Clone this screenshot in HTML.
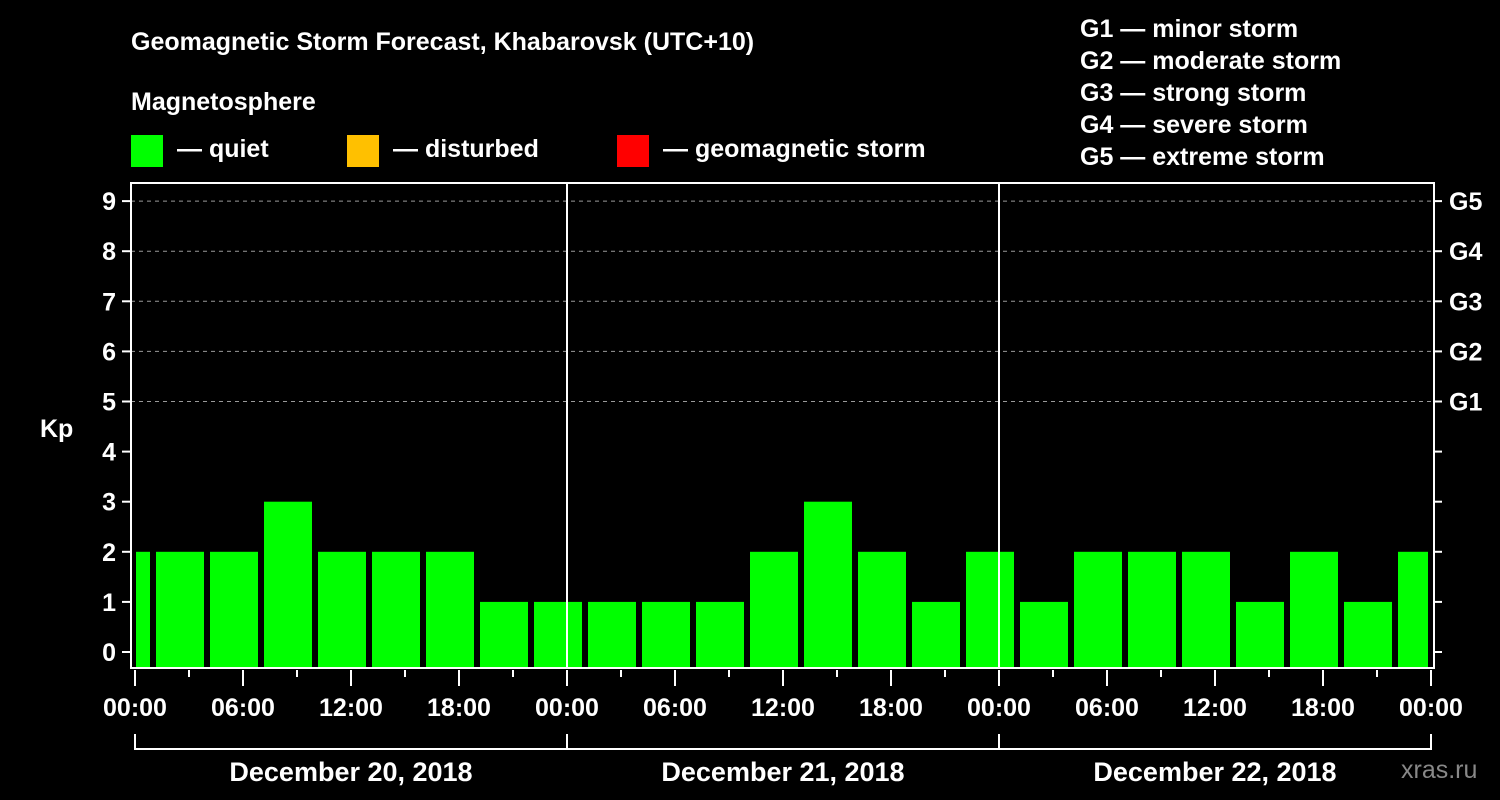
<!DOCTYPE html>
<html><head><meta charset="utf-8"><style>
body{margin:0;background:#000;}
svg{display:block;font-family:"Liberation Sans",Arial,sans-serif;font-weight:bold;}
</style></head><body>
<svg id="c" width="1500" height="800" viewBox="0 0 1500 800">
<rect width="1500" height="800" fill="#000"/>
<text x="131" y="50" fill="#fff" font-size="25">Geomagnetic Storm Forecast, Khabarovsk (UTC+10)</text>
<text x="131" y="110" fill="#fff" font-size="25">Magnetosphere</text>
<g><rect x="131" y="135" width="32" height="32" fill="#00ff00"/><text x="177" y="157" fill="#fff" font-size="25">— quiet</text></g>
<g><rect x="347" y="135" width="32" height="32" fill="#ffc000"/><text x="393" y="157" fill="#fff" font-size="25">— disturbed</text></g>
<g><rect x="617" y="135" width="32" height="32" fill="#ff0000"/><text x="663" y="157" fill="#fff" font-size="25">— geomagnetic storm</text></g>
<g fill="#fff" font-size="25">
<text x="1080" y="37">G1 — minor storm</text>
<text x="1080" y="69">G2 — moderate storm</text>
<text x="1080" y="101">G3 — strong storm</text>
<text x="1080" y="133">G4 — severe storm</text>
<text x="1080" y="165">G5 — extreme storm</text>
</g>
<text x="40" y="437" fill="#fff" font-size="25">Kp</text>
<text x="1401" y="778" fill="#888" font-size="25" font-weight="normal">xras.ru</text>
<g id="g"></g>
</svg>
<script>
const kpValues=[2,2,2,3,2,2,2,1,1,1,1,1,2,3,2,1,2,1,2,2,2,1,2,1,2];
const yTicks=[0,1,2,3,4,5,6,7,8,9];
const gLabels=["G1","G2","G3","G4","G5"];
const dayLabels=["December 20, 2018","December 21, 2018","December 22, 2018"];
const hourLabels=["00:00","06:00","12:00","18:00"];
const tzOffset=1; // bars aligned to UTC 3h intervals, shifted 1h in local time
const NS="http://www.w3.org/2000/svg";
const g=document.getElementById('g');
const X0=135,PX_H=18,Y0=652,PX_K=50.1,L=131,R=1434,T=183,B=668;
const x=h=>X0+h*PX_H, y=k=>Y0-k*PX_K;
function mk(t,a){const e=document.createElementNS(NS,t);for(const k in a)e.setAttribute(k,a[k]);g.appendChild(e);return e;}
// grid
[5,6,7,8,9].forEach(k=>{const e=mk('line',{x1:L,x2:R,y1:y(k),y2:y(k),stroke:'#999','stroke-dasharray':'4,4','stroke-width':1});

});
// bars
const totalH=dayLabels.length*24;
kpValues.forEach((v,i)=>{
 let s=i===0?0:tzOffset+3*(i-1), e=Math.min(tzOffset+3*i,totalH);
 let x1=x(s)+(i===0?1:3), x2=x(e)-(i===kpValues.length-1?3:3);
 const r=mk('rect',{x:x1,y:y(v),width:x2-x1,height:B-y(v),fill:'#00ff00'});
 
 
});
// day separators
for(let d=1;d<dayLabels.length;d++){const e=mk('line',{x1:x(24*d),x2:x(24*d),y1:T,y2:B,stroke:'#fff','stroke-width':2});

}
// frame
const f=mk('rect',{x:L,y:T,width:R-L,height:B-T,fill:'none',stroke:'#fff','stroke-width':2});


// y ticks
yTicks.forEach(k=>{
 mk('line',{x1:122,x2:L,y1:y(k),y2:y(k),stroke:'#fff','stroke-width':2});
 mk('line',{x1:R,x2:1442,y1:y(k),y2:y(k),stroke:'#fff','stroke-width':2});
 const t=mk('text',{x:116,y:y(k)+9,fill:'#fff','font-size':25,'text-anchor':'end'});t.textContent=k;
 
 
});
gLabels.forEach((l,i)=>{const t=mk('text',{x:1449,y:y(5+i)+9,fill:'#fff','font-size':25});t.textContent=l;
 
 });
// x ticks
for(let h=0;h<=totalH;h+=3){
 const maj=h%6===0;
 mk('line',{x1:x(h),x2:x(h),y1:670,y2:maj?686:677,stroke:'#fff','stroke-width':2});
 if(maj){const t=mk('text',{x:x(h),y:716,fill:'#fff','font-size':25,'text-anchor':'middle'});t.textContent=hourLabels[(h/6)%4];
 
 }
}
// day bracket
mk('line',{x1:x(0),x2:x(totalH),y1:749,y2:749,stroke:'#fff','stroke-width':2});
for(let d=0;d<=dayLabels.length;d++)mk('line',{x1:x(24*d),x2:x(24*d),y1:734,y2:750,stroke:'#fff','stroke-width':2});
dayLabels.forEach((l,d)=>{const t=mk('text',{x:x(24*d+12),y:781,fill:'#fff','font-size':27,'text-anchor':'middle'});t.textContent=l;
 
 });
</script>
</body></html>
